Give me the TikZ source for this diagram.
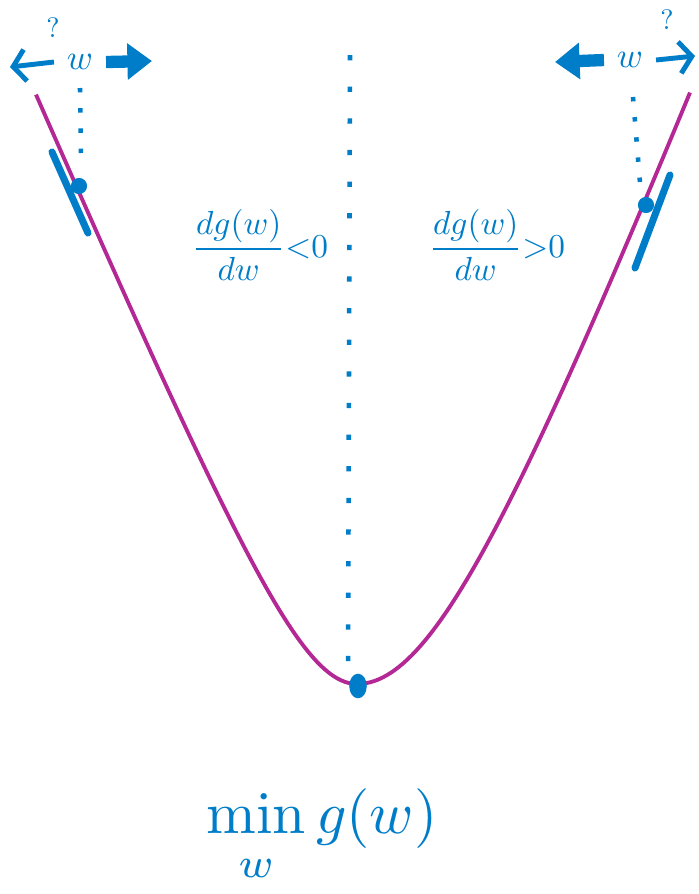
\documentclass[tikz,border=0pt]{standalone}
\usetikzlibrary{arrows.meta}
\definecolor{inkblue}{RGB}{0,125,200}
\definecolor{curvepink}{RGB}{180,40,150}

\begin{document}
\begin{tikzpicture}[x=0.02cm, y=-0.02cm,
    curve/.style={curvepink, line width=2.2pt},
    guide/.style={inkblue, line width=2.6pt, dash pattern=on 3pt off 15pt},
    shortguide/.style={guide, dash pattern=on 2.5pt off 9pt},
    tangent/.style={inkblue, line width=4pt, line cap=round},
    thinarrow/.style={inkblue, line width=2.8pt, -{Straight Barb[length=7pt,width=18pt]}},
    thickarrow/.style={inkblue, line width=7pt, -{Triangle[length=14pt,width=20pt]}},
    ink/.style={text=inkblue, inner sep=0pt}]
    \useasboundingbox (0,0) rectangle (698,894);

    % the curve g(w), a little wider on the right
    \draw[curve] plot[domain=36:357, samples=80] (\x, {684-188*(sqrt(1+((\x-357)/80)^2)-1)})
        -- plot[domain=357:690, samples=80] (\x, {684-338*(sqrt(1+((\x-357)/130)^2)-1)});

    % dotted guides
    \draw[guide] (350,55) -- (348,675);
    \draw[shortguide] (80,88) -- (81,160);
    \draw[shortguide] (633,97) -- (641,195);

    % tangents and points
    \draw[tangent] (52,152) -- (88,233);
    \draw[tangent] (670,175) -- (635,268);
    \fill[inkblue] (79,186) circle (4.6pt);
    \fill[inkblue] (646,205) circle (4.6pt);
    \fill[inkblue] (358,686) ellipse (5pt and 7pt);

    % w labels with step directions
    \node[ink, inner xsep=3.5pt, scale=2] (wL) at (80,62) {$w$};
    \node[ink, inner xsep=3.5pt, scale=2] (wR) at (630,60) {$w$};
    \node[ink, scale=1.6] (qL) at (53,28) {?};
    \node[ink, scale=1.6] (qR) at (667,20) {?};
    \coordinate (tipLL) at (10,67);
    \coordinate (tipLR) at (152,61);
    \coordinate (tipRL) at (555,62);
    \coordinate (tipRR) at (695,56);
    \draw[thinarrow] (wL.west) -- (tipLL);
    \draw[thickarrow] (wL.east) -- (tipLR);
    \draw[thickarrow] (wR.west) -- (tipRL);
    \draw[thinarrow] (wR.east) -- (tipRR);

    % slope labels
    \node[ink, scale=1.9] (slopeL) at (260,245) {$\displaystyle\frac{dg(w)}{dw}{<}0$};
    \node[ink, scale=1.9] (slopeR) at (497,245) {$\displaystyle\frac{dg(w)}{dw}{>}0$};

    % objective
    \node[ink, scale=3.4] (minlabel) at (322,836) {$\displaystyle\min_{\rule{0pt}{1.3ex}w} g(w)$};
\end{tikzpicture}
\end{document}
